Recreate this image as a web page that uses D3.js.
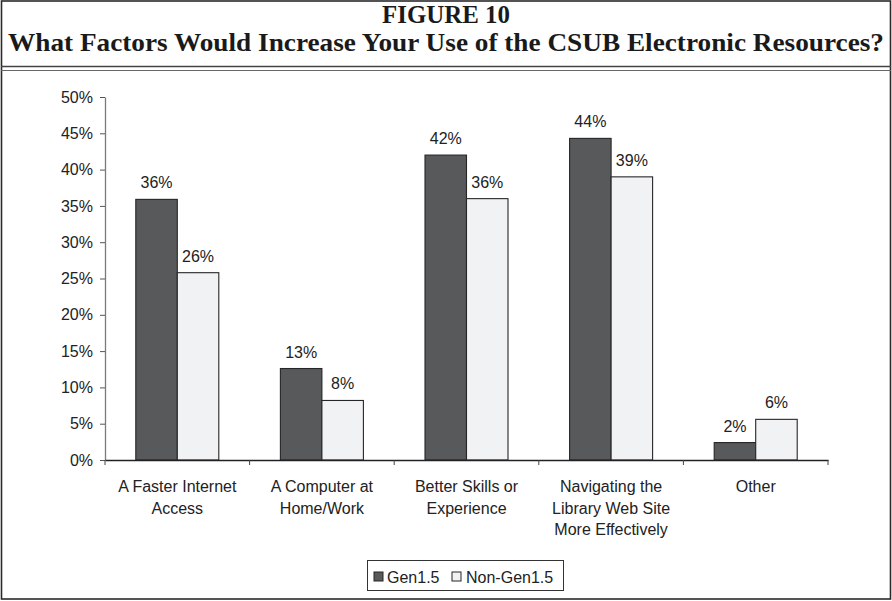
<!DOCTYPE html>
<html>
<head>
<meta charset="utf-8">
<script src="https://cdn.jsdelivr.net/npm/d3@7"></script>
<style>
  html, body { margin: 0; padding: 0; background: #fff; }
  svg { display: block; }
  text { font-family: "Liberation Sans", Arial, sans-serif; fill: #222; }
</style>
</head>
<body>
<svg id="chart" width="892" height="601"></svg>
<script>
const titleLine1 = "FIGURE 10";
const titleLine2 = "What Factors Would Increase Your Use of the CSUB Electronic Resources?";
const categories = [
  ["A Faster Internet", "Access"],
  ["A Computer at", "Home/Work"],
  ["Better Skills or", "Experience"],
  ["Navigating the", "Library Web Site", "More Effectively"],
  ["Other"]
];
const seriesNames = ["Gen1.5", "Non-Gen1.5"];
const gen15 = [0.359, 0.126, 0.420, 0.443, 0.024];
const nonGen15 = [0.258, 0.082, 0.360, 0.390, 0.056];
const yTicks = [0, 0.05, 0.10, 0.15, 0.20, 0.25, 0.30, 0.35, 0.40, 0.45, 0.50];
const seriesColors = ["#58595b", "#f1f2f4"];

const svg = d3.select("#chart");

// Outer frame
svg.append("rect").attr("x", 1.5).attr("y", 1).attr("width", 889).attr("height", 598)
  .attr("fill", "none").attr("stroke", "#2a2a2a").attr("stroke-width", 1.6);

// Title
svg.append("text").attr("x", 446).attr("y", 23).attr("text-anchor", "middle")
  .style("font-family", "'Liberation Serif', 'Times New Roman', serif")
  .style("font-weight", "bold").style("font-size", "25px").style("fill", "#1a1a1a")
  .attr("textLength", 128).attr("lengthAdjust", "spacingAndGlyphs")
  .text(titleLine1);
svg.append("text").attr("x", 446).attr("y", 51).attr("text-anchor", "middle")
  .style("font-family", "'Liberation Serif', 'Times New Roman', serif")
  .style("font-weight", "bold").style("font-size", "25px").style("fill", "#1a1a1a")
  .attr("textLength", 876).attr("lengthAdjust", "spacingAndGlyphs")
  .text(titleLine2);

// Double rule
svg.append("line").attr("x1", 1).attr("x2", 891).attr("y1", 66.5).attr("y2", 66.5)
  .attr("stroke", "#444").attr("stroke-width", 1.6);
svg.append("line").attr("x1", 1).attr("x2", 891).attr("y1", 70.5).attr("y2", 70.5)
  .attr("stroke", "#666").attr("stroke-width", 1.2);

// Scales
const x0 = d3.scaleBand().domain(d3.range(categories.length)).range([105, 828]).paddingInner(0).paddingOuter(0);
const x1 = d3.scaleBand().domain(seriesNames).range([0, x0.bandwidth()]).paddingInner(0).paddingOuter(0.742);
const y = d3.scaleLinear().domain([0, 0.5]).range([460, 97]);

const seriesData = [gen15, nonGen15];

// Bars
const groups = svg.append("g").selectAll("g").data(categories).join("g")
  .attr("transform", (d, i) => `translate(${x0(i)},0)`);
groups.selectAll("rect").data((d, i) => seriesNames.map((s, k) => ({ s, k, v: seriesData[k][i] })))
  .join("rect")
  .attr("x", d => x1(d.s)).attr("width", x1.bandwidth())
  .attr("y", d => y(d.v)).attr("height", d => y(0) - y(d.v))
  .attr("fill", d => seriesColors[d.k]).attr("stroke", "#262626").attr("stroke-width", 1.1);
groups.selectAll("text.val").data((d, i) => seriesNames.map((s, k) => ({ s, k, v: seriesData[k][i] })))
  .join("text").attr("class", "val")
  .attr("x", d => x1(d.s) + x1.bandwidth() / 2).attr("y", d => y(d.v) - 11)
  .attr("text-anchor", "middle").style("font-size", "16px")
  .text(d => Math.round(d.v * 100) + "%");

// Y axis
const yAxis = svg.append("g").attr("transform", "translate(105,0)")
  .call(d3.axisLeft(y).tickValues(yTicks).tickFormat(d => Math.round(d * 100) + "%").tickSize(5).tickPadding(7).tickSizeOuter(0));
yAxis.select(".domain").attr("stroke", "#7a7a7a").attr("stroke-width", 1.3);
yAxis.selectAll(".tick line").attr("stroke", "#555");
yAxis.selectAll(".tick text").style("font-size", "16px").style("font-family", "'Liberation Sans', Arial, sans-serif").attr("fill", "#222");

// X axis baseline + tick marks at category boundaries
const xAxis = svg.append("g").attr("transform", `translate(0,${y(0)})`)
  .call(d3.axisBottom(x0).tickValues([]).tickSizeOuter(0));
xAxis.select(".domain").attr("stroke", "#222").attr("stroke-width", 1.3);
const boundaries = d3.range(categories.length + 1).map(i => i < categories.length ? x0(i) : x0(i - 1) + x0.bandwidth());
svg.append("g").selectAll("line").data(boundaries).join("line")
  .attr("x1", d => d).attr("x2", d => d).attr("y1", y(0)).attr("y2", y(0) + 5)
  .attr("stroke", "#444").attr("stroke-width", 1);

// Category labels
const catLabels = svg.append("g").selectAll("text").data(categories).join("text")
  .attr("text-anchor", "middle").style("font-size", "16px")
  .attr("transform", (d, i) => `translate(${x0(i) + x0.bandwidth() / 2},0)`);
catLabels.selectAll("tspan").data(d => d).join("tspan")
  .attr("x", 0).attr("y", (d, j) => 492 + j * 21.6).text(d => d);

// Legend
const lg = svg.append("g");
lg.append("rect").attr("x", 367.5).attr("y", 560.5).attr("width", 196).attr("height", 30)
  .attr("fill", "#fff").attr("stroke", "#333").attr("stroke-width", 1);
const legendX = [374, 452];
const legendTextX = [387, 466];
seriesNames.forEach((s, k) => {
  lg.append("rect").attr("x", legendX[k]).attr("y", 572).attr("width", 9).attr("height", 9)
    .attr("fill", seriesColors[k]).attr("stroke", "#262626").attr("stroke-width", 1);
  lg.append("text").attr("x", legendTextX[k]).attr("y", 583).style("font-size", "16px").text(s);
});
</script>
</body>
</html>
